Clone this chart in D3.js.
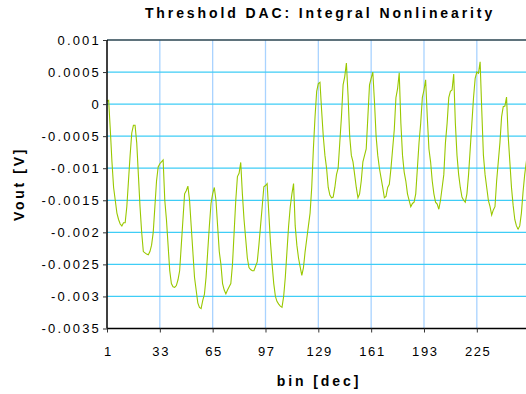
<!DOCTYPE html>
<html><head><meta charset="utf-8">
<script src="https://cdn.jsdelivr.net/npm/d3@7"></script>
<style>body{margin:0;background:#fff;}svg{display:block;font-family:"Liberation Sans",Arial,sans-serif;}</style>
</head><body>
<script>
const title = "Threshold DAC: Integral Nonlinearity";
const xLabel = "bin [dec]";
const yLabel = "Vout [V]";
const xTicks = [1, 33, 65, 97, 129, 161, 193, 225];
const yTicks = [0.001, 0.0005, 0, -0.0005, -0.001, -0.0015, -0.002, -0.0025, -0.003, -0.0035];
const yTickLabels = ["0.001","0.0005","0","-0.0005","-0.001","-0.0015","-0.002","-0.0025","-0.003","-0.0035"];
const vout = [
0.00005,0.00006,-0.0004,-0.0009,-0.0013,-0.0015,-0.0017,-0.0018,-0.00187,-0.0019,
-0.00185,-0.00185,-0.0016,-0.0012,-0.0008,-0.00045,-0.00033,-0.00033,-0.0006,-0.0011,
-0.0016,-0.002,-0.0023,-0.00232,-0.00234,-0.00235,-0.0023,-0.0022,-0.002,-0.0016,
-0.0012,-0.00098,-0.00093,-0.0009,-0.00087,-0.0015,-0.0018,-0.0022,-0.0026,-0.0028,
-0.00285,-0.00286,-0.00283,-0.00274,-0.0026,-0.0022,-0.0018,-0.0014,-0.00135,-0.00128,
-0.0015,-0.0019,-0.0023,-0.0027,-0.0029,-0.0031,-0.00317,-0.00319,-0.00306,-0.00297,
-0.0027,-0.0023,-0.0019,-0.00155,-0.0014,-0.0013,-0.0015,-0.0019,-0.0023,-0.0025,
-0.0028,-0.0029,-0.00296,-0.0029,-0.00285,-0.0028,-0.0025,-0.002,-0.0015,-0.00113,
-0.00108,-0.00091,-0.0014,-0.0018,-0.0021,-0.0024,-0.00255,-0.00258,-0.0026,-0.0026,
-0.00253,-0.00246,-0.0022,-0.0019,-0.0016,-0.00129,-0.00127,-0.00124,-0.0017,-0.00215,
-0.0025,-0.0028,-0.003,-0.00308,-0.00312,-0.00315,-0.00317,-0.003,-0.0027,-0.0023,
-0.0019,-0.0016,-0.0014,-0.00124,-0.0019,-0.0022,-0.0024,-0.00254,-0.00267,-0.00255,
-0.0023,-0.0021,-0.0019,-0.0017,-0.0013,-0.0007,-0.0002,0.0002,0.00032,0.00034,
-0.0001,-0.0005,-0.0008,-0.001,-0.0013,-0.00142,-0.00146,-0.00145,-0.0013,-0.0011,
-0.001,-0.0006,-0.0002,0.0003,0.00043,0.00064,0.00014,-0.0005,-0.0008,-0.0009,
-0.0011,-0.0013,-0.00146,-0.0014,-0.0012,-0.0009,-0.0008,-0.0007,-0.0002,0.0003,
0.0004,0.0005,0.00004,-0.0005,-0.0008,-0.001,-0.00115,-0.0013,-0.00146,-0.00144,
-0.0013,-0.00125,-0.001,-0.0007,-0.0004,0.0001,0.00024,0.00049,-0.0003,-0.0008,
-0.00106,-0.0012,-0.0014,-0.0015,-0.0016,-0.00155,-0.00153,-0.0014,-0.001,-0.0006,
-0.0003,0.0001,0.00022,0.00038,-0.0002,-0.0007,-0.0009,-0.0012,-0.0014,-0.00153,
-0.00156,-0.00164,-0.0015,-0.0013,-0.0011,-0.0006,-0.0003,0.0001,0.0002,0.00022,
0.00047,-0.0003,-0.0008,-0.0011,-0.0013,-0.00145,-0.0015,-0.00153,-0.0014,-0.0011,
-0.0007,-0.0003,0.0001,0.0004,0.0005,0.00048,0.00066,-0.0001,-0.0008,-0.0011,
-0.0013,-0.0015,-0.0016,-0.00173,-0.00165,-0.0016,-0.0012,-0.0009,-0.0006,-0.0002,
-0.00004,-0.00003,0.00011,-0.0005,-0.0009,-0.0013,-0.00158,-0.0018,-0.0019,-0.00195,
-0.0019,-0.0017,-0.00137,-0.0011,-0.0009,-0.0007
];
const bins = vout.map((v, i) => i + 1);

const W = 526, H = 394;
const mLeft = 107, mRight = 528, mTop = 40, mBottom = 328.5;
const svg = d3.select("body").append("svg").attr("width", W).attr("height", H);

const x = d3.scaleLinear().domain([1, 256]).range([mLeft, mRight]);
const y = d3.scaleLinear().domain([-0.0035, 0.001]).range([mBottom, mTop]);

// vertical gridlines
svg.append("g").selectAll("line").data(xTicks.slice(1)).join("line")
  .attr("x1", d => x(d)).attr("x2", d => x(d)).attr("y1", mTop).attr("y2", mBottom)
  .attr("stroke", "#a9d3ff").attr("stroke-width", 1.3);
// horizontal gridlines
svg.append("g").selectAll("line").data(yTicks.slice(1, -1)).join("line")
  .attr("x1", mLeft).attr("x2", W).attr("y1", d => y(d)).attr("y2", d => y(d))
  .attr("stroke", "#3fcdf6").attr("stroke-width", 1.3);
// top border
svg.append("line").attr("x1", mLeft).attr("x2", W).attr("y1", mTop).attr("y2", mTop)
  .attr("stroke", "#2a4450").attr("stroke-width", 1.5);

// data line
const line = d3.line().x((d, i) => x(bins[i])).y(d => y(d));
svg.append("path").datum(vout).attr("d", line)
  .attr("fill", "none").attr("stroke", "#99c800").attr("stroke-width", 1.1);

// y axis
const yAxis = d3.axisLeft(y).tickValues(yTicks).tickSize(4).tickPadding(2)
  .tickFormat((d, i) => yTickLabels[i]);
const gy = svg.append("g").attr("transform", `translate(${mLeft},0)`).call(yAxis);
gy.select(".domain").attr("stroke", "#000").attr("stroke-width", 1.5).attr("d", `M0,${mTop}V${mBottom}`);
gy.selectAll(".tick line").attr("stroke", "#333");
gy.selectAll(".tick text").attr("font-size", 13).attr("fill", "#000").attr("letter-spacing", "2.2px")
  .attr("font-family", "Liberation Sans, Arial, sans-serif");

// x axis
const xAxis = d3.axisBottom(x).tickValues(xTicks).tickSize(4).tickPadding(14).tickFormat(d => d);
const gx = svg.append("g").attr("transform", `translate(0,${mBottom})`).call(xAxis);
gx.select(".domain").attr("stroke", "#000").attr("stroke-width", 1.5).attr("d", `M${mLeft},0H${W}`);
gx.selectAll(".tick line").attr("stroke", "#333");
gx.selectAll(".tick text").attr("font-size", 13).attr("fill", "#000").attr("letter-spacing", "1.6px")
  .attr("dx", "0.8px")
  .attr("font-family", "Liberation Sans, Arial, sans-serif");

// titles
svg.append("text").attr("x", 320).attr("y", 18).attr("text-anchor", "middle")
  .attr("font-size", 14).attr("font-weight", "bold").attr("letter-spacing", "2.9px").text(title);
svg.append("text").attr("x", 319).attr("y", 386).attr("text-anchor", "middle")
  .attr("font-size", 14).attr("font-weight", "bold").attr("letter-spacing", "2.9px").text(xLabel);
svg.append("text").attr("transform", "translate(24,184) rotate(-90)").attr("text-anchor", "middle")
  .attr("font-size", 14).attr("font-weight", "bold").attr("letter-spacing", "2.7px").text(yLabel);
</script>
</body></html>
